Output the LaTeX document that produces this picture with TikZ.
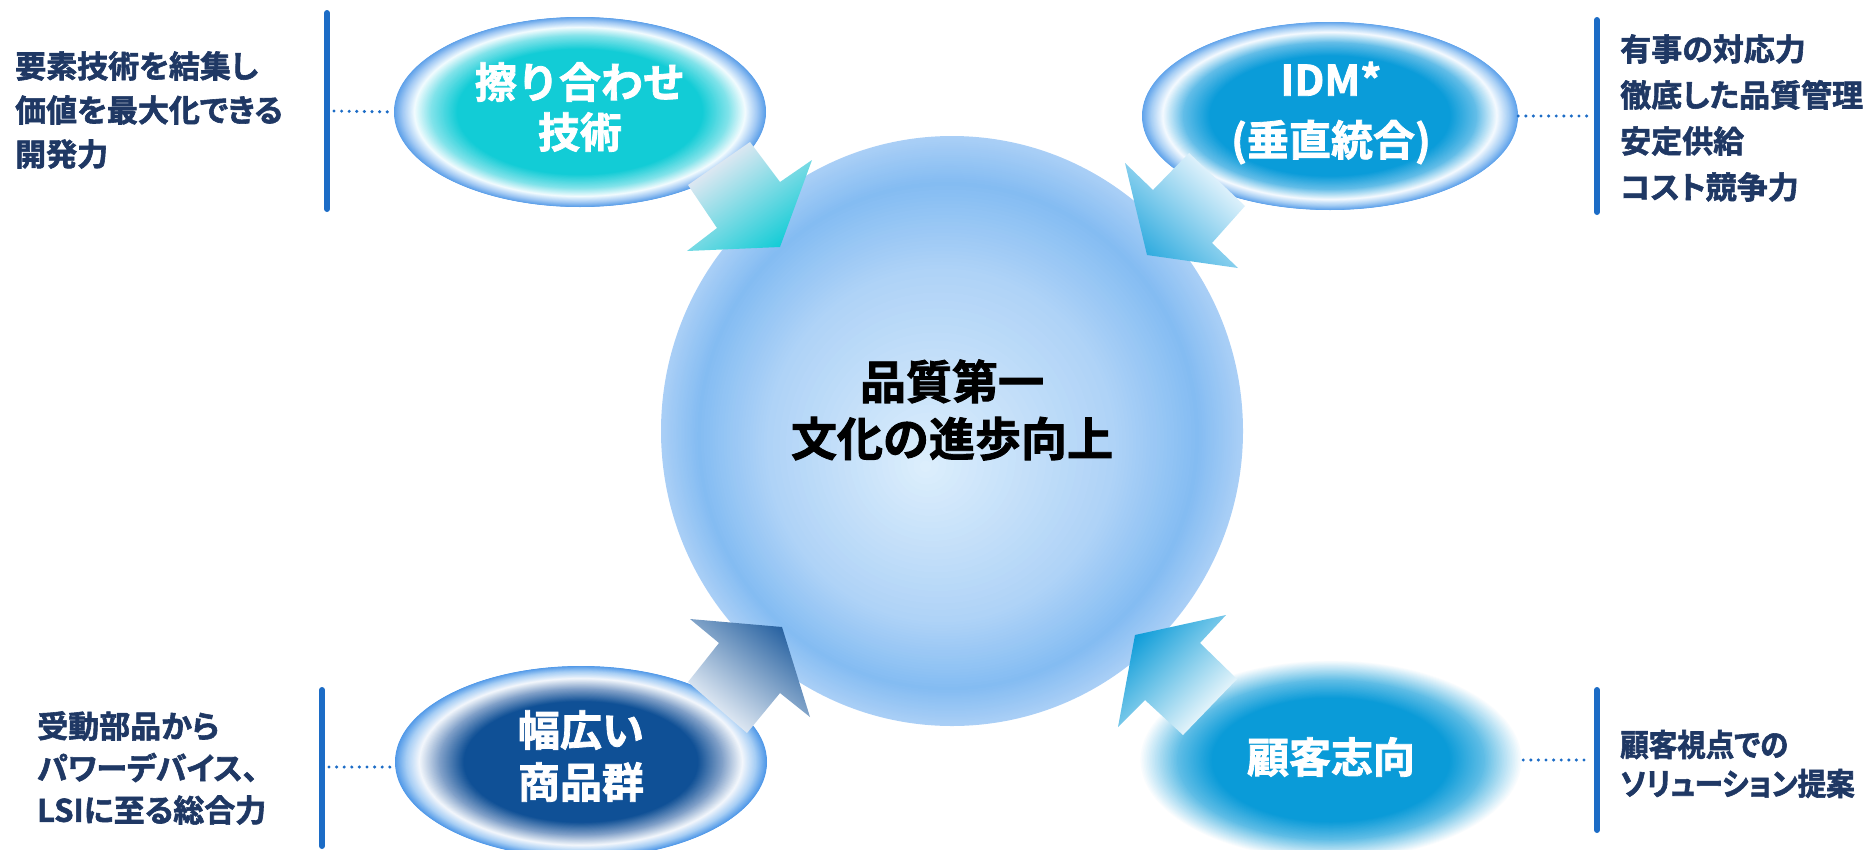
\documentclass[tikz,border=0pt]{standalone}
\usepackage{fontspec}
\setmainfont{Noto Sans CJK JP}[BoldFont={Noto Sans CJK JP Bold}, BoldFeatures={FakeBold=1.9}]
\newfontfamily\propjp{Noto Sans CJK JP}[BoldFont={Noto Sans CJK JP Bold}, BoldFeatures={FakeBold=1.9}, RawFeature=+palt]
\usetikzlibrary{shapes.geometric}
\definecolor{navy}{HTML}{1F3864}
\definecolor{barblue}{HTML}{1C6CC6}
\definecolor{tlA}{HTML}{12CCD6}
\definecolor{tlB}{HTML}{7FE3EA}
\definecolor{tlW}{HTML}{F2FCFF}
\definecolor{tlC}{HTML}{A6CCF5}
\definecolor{tlD}{HTML}{5B9FE9}
\definecolor{trA}{HTML}{0A9CD9}
\definecolor{trB}{HTML}{62BDE8}
\definecolor{trW}{HTML}{F4FAFF}
\definecolor{trC}{HTML}{A9D0F5}
\definecolor{trD}{HTML}{5EA2EB}
\definecolor{blA}{HTML}{0F5096}
\definecolor{blB}{HTML}{7F9FC8}
\definecolor{blW}{HTML}{F3F7FC}
\definecolor{blC}{HTML}{A8CFF5}
\definecolor{blD}{HTML}{4F98E8}
\definecolor{brA}{HTML}{0A9BD8}
\definecolor{brB}{HTML}{5FBDE6}
\definecolor{coA}{HTML}{DCEEFC}
\definecolor{coB}{HTML}{AFD3F7}
\definecolor{coC}{HTML}{84BCF2}
\definecolor{coD}{HTML}{AACFF6}
% concentric-layer radial gradient: #1,#2 centre; #3 rx; #4 ry; #5 outer frac; #6 inner frac; #7 outer colour; #8 inner colour
\def\offx{0}\def\offy{0}
\newcommand\gradseg[8]{%
  \foreach \k in {0,...,24}{%
    \pgfmathsetmacro\ff{#5-(#5-#6)*\k/24}%
    \pgfmathsetmacro\pp{100*\k/24}%
    \fill[#8!\pp!#7] ({#1+\offx*(1-\ff)},{#2+\offy*(1-\ff)}) ellipse [x radius={\ff*#3}, y radius={\ff*#4}];
  }}
\tikzset{
  blob/.style={ellipse, draw=none, inner sep=0pt},
  blobtext/.style={inner sep=0pt, text=white, align=center},
  sidetext/.style={anchor=west, inner sep=0pt, text=navy, align=left, font=\propjp\bfseries\fontsize{31}{44}\selectfont},
  vbar/.style={draw=barblue, line width=6pt, line cap=round},
  dotline/.style={draw=barblue, line width=3.4pt, line cap=round, dash pattern=on 0pt off 7.6pt},
}
\begin{document}
\begin{tikzpicture}[x=1pt,y=-1pt]
\useasboundingbox (0,0) rectangle (1871,849);
% ---- core gradient
\def\offx{-27}\def\offy{36}
\gradseg{952}{431}{291}{295}{1}{0.86}{coD}{coC}
\gradseg{952}{431}{291}{295}{0.86}{0.6}{coC}{coB}
\gradseg{952}{431}{291}{295}{0.6}{0.02}{coB}{coA}
\def\offx{0}\def\offy{0}
% ---- TL
\gradseg{580}{112}{186}{95}{1}{0.95}{tlD}{tlC}
\gradseg{580}{112}{186}{95}{0.95}{0.89}{tlC}{tlW}
\gradseg{580}{112}{186}{95}{0.89}{0.80}{tlW}{tlB}
\gradseg{580}{112}{186}{95}{0.80}{0.66}{tlB}{tlA}
% ---- TR
\gradseg{1330}{116}{188}{94}{1}{0.95}{trD}{trC}
\gradseg{1330}{116}{188}{94}{0.95}{0.89}{trC}{trW}
\gradseg{1330}{116}{188}{94}{0.89}{0.78}{trW}{trB}
\gradseg{1330}{116}{188}{94}{0.78}{0.64}{trB}{trA}
% ---- BL
\gradseg{581}{762}{186}{96}{1}{0.94}{blD}{blC}
\gradseg{581}{762}{186}{96}{0.94}{0.87}{blC}{blW}
\gradseg{581}{762}{186}{96}{0.87}{0.76}{blW}{blB}
\gradseg{581}{762}{186}{96}{0.76}{0.63}{blB}{blA}
% ---- BR
\gradseg{1331}{760}{192}{100}{1}{0.8}{white}{brB}
\gradseg{1331}{760}{192}{100}{0.8}{0.62}{brB}{brA}
% shapes (anchors for connectors)
\node[ellipse, draw=none, minimum width=582, minimum height=590, inner sep=0pt] (core) at (952,431) {};
\node[blob, minimum width=372, minimum height=190] (tl) at (580,112) {};
\node[blob, minimum width=376, minimum height=188] (tr) at (1330,116) {};
\node[blob, minimum width=372, minimum height=192] (bl) at (581,762) {};
\node[blob, minimum width=384, minimum height=200] (br) at (1331,760) {};
% texts in shapes
\node[inner sep=0pt, align=center, font=\bfseries\fontsize{46}{57}\selectfont] (coretxt) at (952,410) {品質第一\\文化の進歩向上};
\node[blobtext, font=\bfseries\fontsize{42}{50}\selectfont] (tltxt) at (580,107) {擦り合わせ\\技術};
\node[blobtext, font=\bfseries\fontsize{42}{60}\selectfont] (trtxt) at (1331,113) {IDM*\\(垂直統合)};
\node[blobtext, font=\bfseries\fontsize{42}{52}\selectfont] (bltxt) at (581,756) {幅広い\\商品群};
\node[blobtext, font=\bfseries\fontsize{42}{50}\selectfont] (brtxt) at (1331,757) {顧客志向};
% arrows
\path[top color=white!92!violet, bottom color=tlA, shading angle=36]
  (688,185) -- (750,142) -- (780,182) -- (812,160) -- (780,247) -- (687,251) -- (717,228) -- cycle;
\path[top color=trW, bottom color=trA!85!white, shading angle=-43]
  (1189,153) -- (1245,206) -- (1212,243) -- (1238,268) -- (1147,255) -- (1125,163) -- (1153,190) -- cycle;
\path[top color=blW, bottom color=blA!90!white, shading angle=141]
  (690,619) -- (782,627) -- (810,717) -- (780,693) -- (747,733) -- (688,682) -- (719,643) -- cycle;
\path[top color=white, bottom color=brA, shading angle=-134]
  (1135,635) -- (1226,615) -- (1200,643) -- (1237,679) -- (1183,735) -- (1145,700) -- (1118,727) -- cycle;
% bars
\coordinate (tlbarT) at (327,13);  \coordinate (tlbarB) at (327,209); \coordinate (tlbarM) at (327,111);
\coordinate (trbarT) at (1597,20); \coordinate (trbarB) at (1597,212); \coordinate (trbarM) at (1597,116);
\coordinate (blbarT) at (322,690); \coordinate (blbarB) at (322,846); \coordinate (blbarM) at (322,767);
\coordinate (brbarT) at (1597,690); \coordinate (brbarB) at (1597,830); \coordinate (brbarM) at (1597,760);
\draw[vbar] (tlbarT) -- (tlbarB);
\draw[vbar] (trbarT) -- (trbarB);
\draw[vbar] (blbarT) -- (blbarB);
\draw[vbar] (brbarT) -- (brbarB);
\draw[dotline] (tlbarM) ++(7,0) -- (tl.west);
\draw[dotline] (tr.east) -- ([xshift=-6pt]trbarM);
\draw[dotline] (blbarM) ++(7,0) -- ([yshift=-5pt]bl.west);
\draw[dotline] (br.east) -- ([xshift=-6pt]brbarM);
% side texts
\node[sidetext] (tltext) at (15,110) {要素技術を結集し\\価値を最大化できる\\開発力};
\node[sidetext, font=\propjp\bfseries\fontsize{31}{46}\selectfont] (trtext) at (1620,118) {有事の対応力\\徹底した品質管理\\安定供給\\コスト競争力};
\node[sidetext, font=\propjp\bfseries\fontsize{31}{42}\selectfont] (bltext) at (37,768) {受動部品から\\パワーデバイス、\\LSIに至る総合力};
\node[sidetext, font=\propjp\bfseries\addfontfeature{FakeStretch=0.92}\fontsize{31}{39}\selectfont] (brtext) at (1620,764) {顧客視点での\\ソリューション提案};
\end{tikzpicture}
\end{document}
